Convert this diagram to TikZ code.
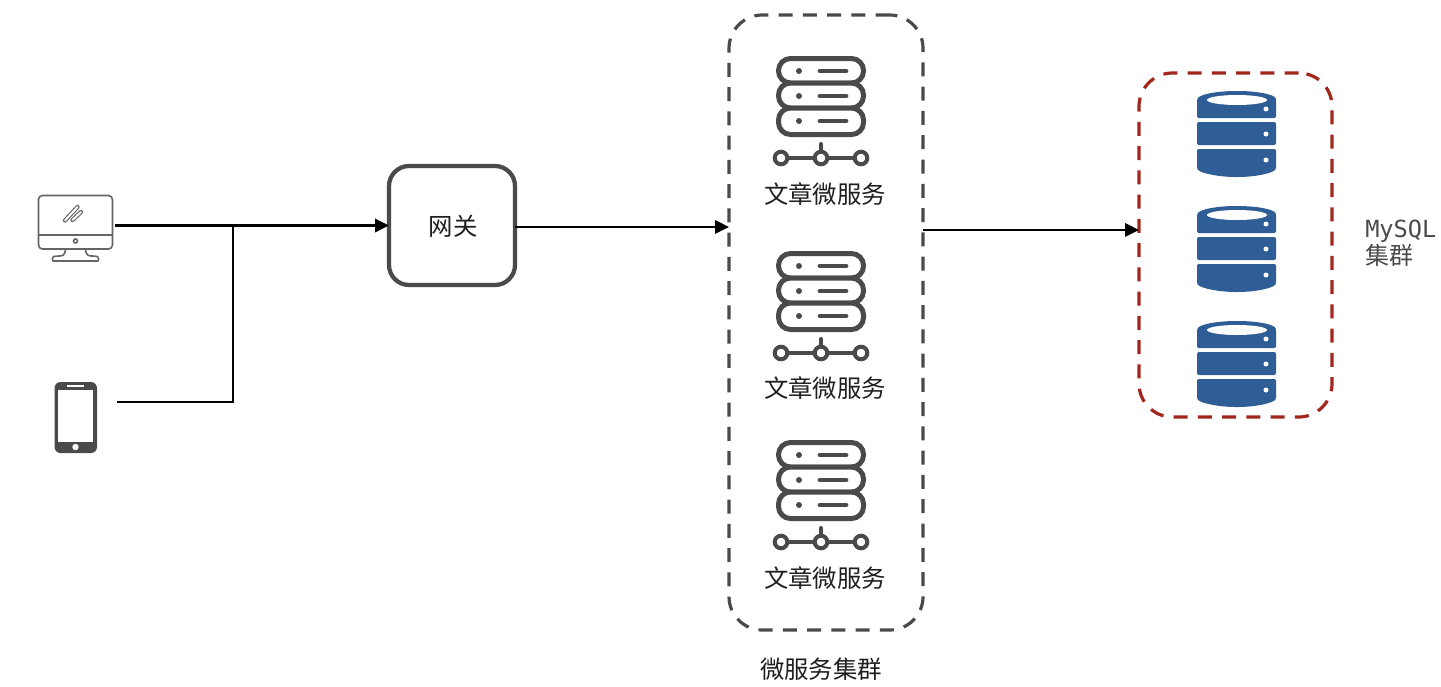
\documentclass[tikz,border=0pt]{standalone}
\usepackage{fontspec}
\setmainfont{Noto Sans CJK SC}
\newfontfamily\monofam{DejaVu Sans Mono}
\usetikzlibrary{arrows.meta}
\definecolor{icon}{HTML}{4A4A4A}
\definecolor{dbblue}{HTML}{2F5D95}
\definecolor{redline}{HTML}{A3261C}
\tikzset{
  x=0.75pt,y=-0.75pt,
  conn/.style={draw=black,line width=1.8pt},
  connarrow/.style={conn,-{Triangle[length=10.5pt,width=10pt]}},
  dashbox/.style={draw=#1,line width=2.4pt,rounded corners=25pt,dash pattern=on 10.5pt off 7.7pt,inner sep=0pt,outer sep=0pt},
  gatebox/.style={draw=icon,line width=3.2pt,rounded corners=15pt,inner sep=0pt,outer sep=0pt,fill=white},
  lbl/.style={font=\fontsize{18.3pt}{22pt}\selectfont,text=black!88,inner sep=0pt},
  hidden/.style={inner sep=0pt,outer sep=0pt},
  server/.pic={
    \draw[icon,line width=3.75pt,rounded corners=9pt,fill=white] (-42.5,1.5) rectangle (42.5,26);
    \draw[icon,line width=3.75pt,rounded corners=9pt,fill=white] (-42.5,26) rectangle (42.5,51);
    \draw[icon,line width=3.75pt,rounded corners=9pt,fill=white] (-42.5,51) rectangle (42.5,77.5);
    \foreach \yy in {14,39,64}{
      \fill[icon] (-22,\yy) circle[radius=3];
      \draw[icon,line width=3.6pt,line cap=round] (-1,\yy) -- (25,\yy);
    }
    \draw[icon,line width=3pt,line cap=round] (0,87) -- (0,101);
    \draw[icon,line width=3pt] (-40,101) -- (40,101);
    \foreach \xx in {-40,0,40}{
      \draw[icon,line width=3pt,fill=white] (\xx,101) circle[radius=6.3];
    }
  },
  database/.pic={
    \fill[dbblue,rounded corners=1pt] (-40,27) -- (-40,9) .. controls (-38,3) and (-18,0) .. (0,0)
       .. controls (18,0) and (38,3) .. (39,9) -- (39,27) -- cycle;
    \fill[white] (0,9) ellipse[x radius=30,y radius=5];
    \fill[dbblue,rounded corners=1.5pt] (-40,31) rectangle (39,54);
    \fill[dbblue,rounded corners=1pt] (-40,58) -- (39,58) -- (39,77) .. controls (37,82) and (18,86) .. (0,86)
       .. controls (-18,86) and (-38,82) .. (-40,77) -- cycle;
    \foreach \yy in {18,43,69}{
      \fill[white] (29,\yy) circle[radius=2.5];
    }
  }
}
\begin{document}
\begin{tikzpicture}
\useasboundingbox[fill=white] (0,0) rectangle (1441,686);

% desktop icon
\node[hidden,minimum width=57.75pt,minimum height=45pt] (pc) at (76.5,225.5) {};
\draw[icon!85,line width=1.2pt,rounded corners=3pt] (38.5,195.5) rectangle (112.5,249);
\draw[icon!85,line width=1.2pt] (38.5,235) -- (112.5,235);
\draw[icon!85,line width=1.2pt] (75.5,241) circle[radius=2];
\draw[icon!85,line width=1.2pt,rounded corners=2pt] (65.5,249) .. controls (65,256) and (62,256) .. (56,256)
   .. controls (52,257) and (52,261) .. (56,261) -- (95,261) .. controls (99,261) and (99,257) .. (95,256)
   .. controls (89,256) and (86,256) .. (85.5,249);
\draw[icon!85,line width=3.2pt,line cap=round] (65,220.5) -- (77.5,207);
\draw[white,line width=1.5pt,line cap=round] (65,220.5) -- (77.5,207);
\draw[icon!85,line width=3.2pt,line cap=round] (72.5,220) -- (81,212);
\draw[white,line width=1.5pt,line cap=round] (72.5,220) -- (81,212);

% phone icon
\node[hidden,minimum width=46.5pt,minimum height=53pt] (phone) at (85.5,402) {};
\fill[icon,rounded corners=4.5pt] (54.5,382) rectangle (97,453);
\fill[white] (58,390) rectangle (93,442);
\draw[white,line width=0.9pt] (67,386) -- (84,386);
\fill[white] (75.5,447) circle[radius=3.2];

% gateway
\node[gatebox,minimum width=94.5pt,minimum height=89.25pt] (gw) at (452,225.5) {};
\node[lbl] (gwlabel) at (453,226) {网关};

% service cluster
\node[dashbox=icon,minimum width=145.5pt,minimum height=461.25pt] (cluster) at (826,322.5) {};
\pic at (821,57) {server};
\pic at (821,252) {server};
\pic at (821,441) {server};
\node[lbl] (svc1) at (825,194) {文章微服务};
\node[lbl] (svc2) at (825,388) {文章微服务};
\node[lbl] (svc3) at (825,578) {文章微服务};
\node[lbl] (clusterlabel) at (821,669) {微服务集群};

% MySQL cluster
\node[dashbox=redline,minimum width=144.75pt,minimum height=258pt] (mysql) at (1235.5,245) {};
\pic at (1237,91) {database};
\pic at (1237,206) {database};
\pic at (1237,321) {database};
\node[lbl,anchor=west,text=icon,align=left,font=\fontsize{17.7pt}{20pt}\selectfont] (mysqllabel) at (1365,243)
  {{\monofam MySQL}\\{\fontsize{18pt}{20pt}\selectfont 集群}};

% connectors
\coordinate (junction) at (233,225.5);
\draw[connarrow] (pc.east) -- (gw.west);
\draw[conn,line join=miter] (phone.east) -| (junction);
\draw[connarrow] ([yshift=-1.1pt]gw.east) -- ([yshift=-1.1pt]gw.east -| cluster.west);
\draw[connarrow] ([yshift=69.4pt]cluster.east) -- ([yshift=69.4pt]cluster.east -| mysql.west);
\end{tikzpicture}
\end{document}
